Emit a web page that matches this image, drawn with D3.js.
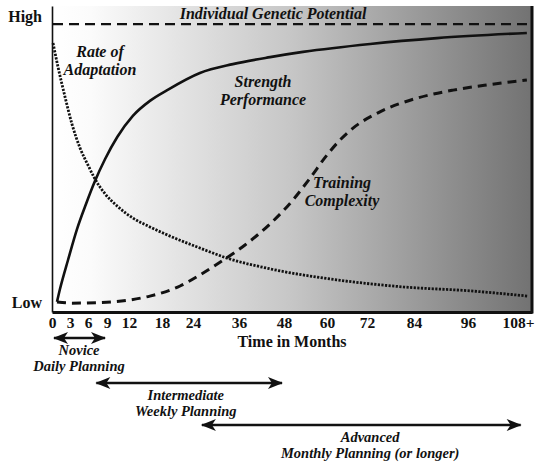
<!DOCTYPE html>
<html>
<head>
<meta charset="utf-8">
<script src="https://cdn.jsdelivr.net/npm/d3@7/dist/d3.min.js"></script>
<style>
  html, body { margin: 0; padding: 0; background: #fff; }
  svg { display: block; }
  .lbl { font-family: "Liberation Serif", "Times New Roman", serif; font-weight: bold; font-style: italic; fill: #111; }
  .axis text, .title { font-family: "Liberation Serif", "Times New Roman", serif; font-weight: bold; fill: #111; }
</style>
</head>
<body>
<svg id="chart" width="540" height="463"></svg>
<script>
// Months marked on the time axis and their labels
const months = [0, 3, 6, 9, 12, 18, 24, 36, 48, 60, 72, 84, 96, 108];
const monthLabels = ["0", "3", "6", "9", "12", "18", "24", "36", "48", "60", "72", "84", "96", "108+"];

// Relative level (0 = low, 100 = high) against months of training
const strengthPerformance = [
  [0.83, 3.3], [1.33, 7.5], [2.67, 17.0], [4.17, 27.1], [5.67, 35.3], [7.1, 42.8],
  [8.7, 50.0], [10.4, 57.2], [12.7, 64.1], [15.8, 69.0], [19.0, 72.5], [25.8, 78.1],
  [34.4, 81.0], [44.3, 83.3], [53.3, 85.0], [72.8, 87.6], [89.1, 89.5], [109.9, 91.2]
];
const rateOfAdaptation = [
  [0.17, 87.9], [1.0, 80.1], [2.17, 70.3], [3.33, 61.4], [4.67, 53.6], [6.0, 48.0],
  [7.1, 43.5], [8.7, 38.6], [10.4, 34.6], [12.7, 30.7], [15.8, 27.8], [19.0, 25.2],
  [25.8, 20.9], [32.9, 17.6], [44.3, 14.1], [63, 10.5], [81.2, 8.2], [96.5, 6.9], [110.1, 5.2]
];
const trainingComplexity = [
  [0.83, 3.3], [3.33, 2.9], [7.9, 3.1], [11.7, 3.8], [15.8, 5.2], [21.5, 8.5],
  [25.8, 12.1], [31.6, 16.7], [37.6, 21.9], [44.3, 28.8], [50.5, 36.6], [55.3, 43.8],
  [60, 51.3], [63.9, 56.2], [67.8, 60.1], [75.3, 65.4], [84.7, 69.9], [92.7, 72.5],
  [100.6, 74.2], [109.9, 75.8]
];
const geneticPotential = 94.1;

// Level tick labels
const levelTicks = [3.3, 96.5];
const levelLabels = ["Low", "High"];

// Planning phases spanning ranges of months
const phaseNames = ["Novice", "Intermediate", "Advanced"];
const phasePlans = ["Daily Planning", "Weekly Planning", "Monthly Planning (or longer)"];
const phaseStart = [0, 7, 25.8];
const phaseEnd = [9, 48, 109];
const phaseLabelMonth = [4.5, 22.6, 72.8];

// ---- layout ----
const W = 540, H = 463;
const plot = { left: 52, right: 532, top: 6, bottom: 312 };
const plotW = plot.right - plot.left;
// The time axis is stretched unevenly: early months get more room.
const axisBreaks = [0, .0375, .075, .1146, .1604, .2292, .2938, .3896, .4833, .5729, .6563, .7542, .8667, .9708, 1];
const axisEnd = 111;

const x = d3.scaleLinear()
  .domain(months.concat([axisEnd]))
  .range(axisBreaks.map(f => plot.left + f * plotW));
const y = d3.scaleLinear().domain([0, 100]).range([plot.bottom, plot.top]);

const svg = d3.select("#chart");
const defs = svg.append("defs");

const grad = defs.append("linearGradient").attr("id", "bg")
  .attr("x1", "0%").attr("x2", "100%").attr("y1", "0%").attr("y2", "0%");
[[0, "#ffffff"], [0.08, "#fbfbfb"], [0.5, "#c6c6c6"], [1, "#727272"]].forEach(([o, c]) =>
  grad.append("stop").attr("offset", o).attr("stop-color", c));

// arrowhead for the phase ranges
defs.append("marker").attr("id", "head")
  .attr("viewBox", "-15 -6.5 17 13").attr("refX", 0).attr("refY", 0)
  .attr("markerUnits", "userSpaceOnUse").attr("markerWidth", 17).attr("markerHeight", 13)
  .attr("orient", "auto-start-reverse")
  .append("path").attr("d", "M1,0 L-14,-6 L-10,0 L-14,6 Z").attr("fill", "#111");

// shaded plot area
svg.append("rect")
  .attr("x", plot.left).attr("y", plot.top)
  .attr("width", plotW).attr("height", plot.bottom - plot.top)
  .attr("fill", "url(#bg)");

// axes
const xAxis = svg.append("g").attr("class", "axis")
  .attr("transform", `translate(0,${plot.bottom})`)
  .call(d3.axisBottom(x).tickValues(months).tickSize(0).tickSizeOuter(0).tickPadding(5)
    .tickFormat((d, i) => monthLabels[i]));
xAxis.selectAll("text").attr("font-size", 15.5);
xAxis.select(".domain").attr("stroke", "#111").attr("stroke-width", 3);

const yAxis = svg.append("g").attr("class", "axis")
  .attr("transform", `translate(${plot.left},0)`)
  .call(d3.axisLeft(y).tickValues(levelTicks).tickSize(0).tickSizeOuter(0).tickPadding(10)
    .tickFormat((d, i) => levelLabels[i]));
yAxis.selectAll("text").attr("font-size", 16);
yAxis.select(".domain").attr("stroke", "#111").attr("stroke-width", 1.6);

svg.append("text").attr("class", "title")
  .attr("x", 292).attr("y", 347).attr("text-anchor", "middle").attr("font-size", 16)
  .text("Time in Months");

// right frame edge
svg.append("line")
  .attr("x1", plot.right).attr("x2", plot.right)
  .attr("y1", plot.top).attr("y2", plot.bottom + 1.5)
  .attr("stroke", "#111").attr("stroke-width", 3);

// genetic ceiling
svg.append("line")
  .attr("x1", x(0) + 1).attr("x2", plot.right)
  .attr("y1", y(geneticPotential)).attr("y2", y(geneticPotential))
  .attr("stroke", "#111").attr("stroke-width", 2.2).attr("stroke-dasharray", "10,6");

const line = d3.line().x(d => x(d[0])).y(d => y(d[1])).curve(d3.curveMonotoneX);

svg.append("path").datum(trainingComplexity).attr("d", line)
  .attr("fill", "none").attr("stroke", "#111").attr("stroke-width", 3)
  .attr("stroke-dasharray", "9,6");
svg.append("path").datum(rateOfAdaptation).attr("d", line)
  .attr("fill", "none").attr("stroke", "#111").attr("stroke-width", 2.8)
  .attr("stroke-dasharray", "2.2,1.4");
svg.append("path").datum(strengthPerformance).attr("d", line)
  .attr("fill", "none").attr("stroke", "#111").attr("stroke-width", 2.6);

// curve labels
function label(lines, cx, by, size) {
  const t = svg.append("text").attr("class", "lbl").attr("text-anchor", "middle").attr("font-size", size);
  lines.forEach((s, i) => t.append("tspan").attr("x", cx).attr("y", by + i * 18).text(s));
}
label(["Individual Genetic Potential"], 273, 19, 16);
label(["Rate of", "Adaptation"], 100, 57, 16);
label(["Strength", "Performance"], 263, 87, 16);
label(["Training", "Complexity"], 342, 188, 16);

// planning phases
const rowY = [338, 383, 425];
phaseNames.forEach((name, i) => {
  const x0 = x(phaseStart[i]), x1 = x(phaseEnd[i]), cx = x(phaseLabelMonth[i]);
  svg.append("line")
    .attr("x1", x0 + 2).attr("x2", x1 - 2)
    .attr("y1", rowY[i]).attr("y2", rowY[i])
    .attr("stroke", "#111").attr("stroke-width", 2.4)
    .attr("marker-start", "url(#head)").attr("marker-end", "url(#head)");
  const t = svg.append("text").attr("class", "lbl").attr("text-anchor", "middle").attr("font-size", 14.5);
  t.append("tspan").attr("x", cx).attr("y", rowY[i] + 17).text(name);
  t.append("tspan").attr("x", cx).attr("y", rowY[i] + 33).text(phasePlans[i]);
});
</script>
</body>
</html>
